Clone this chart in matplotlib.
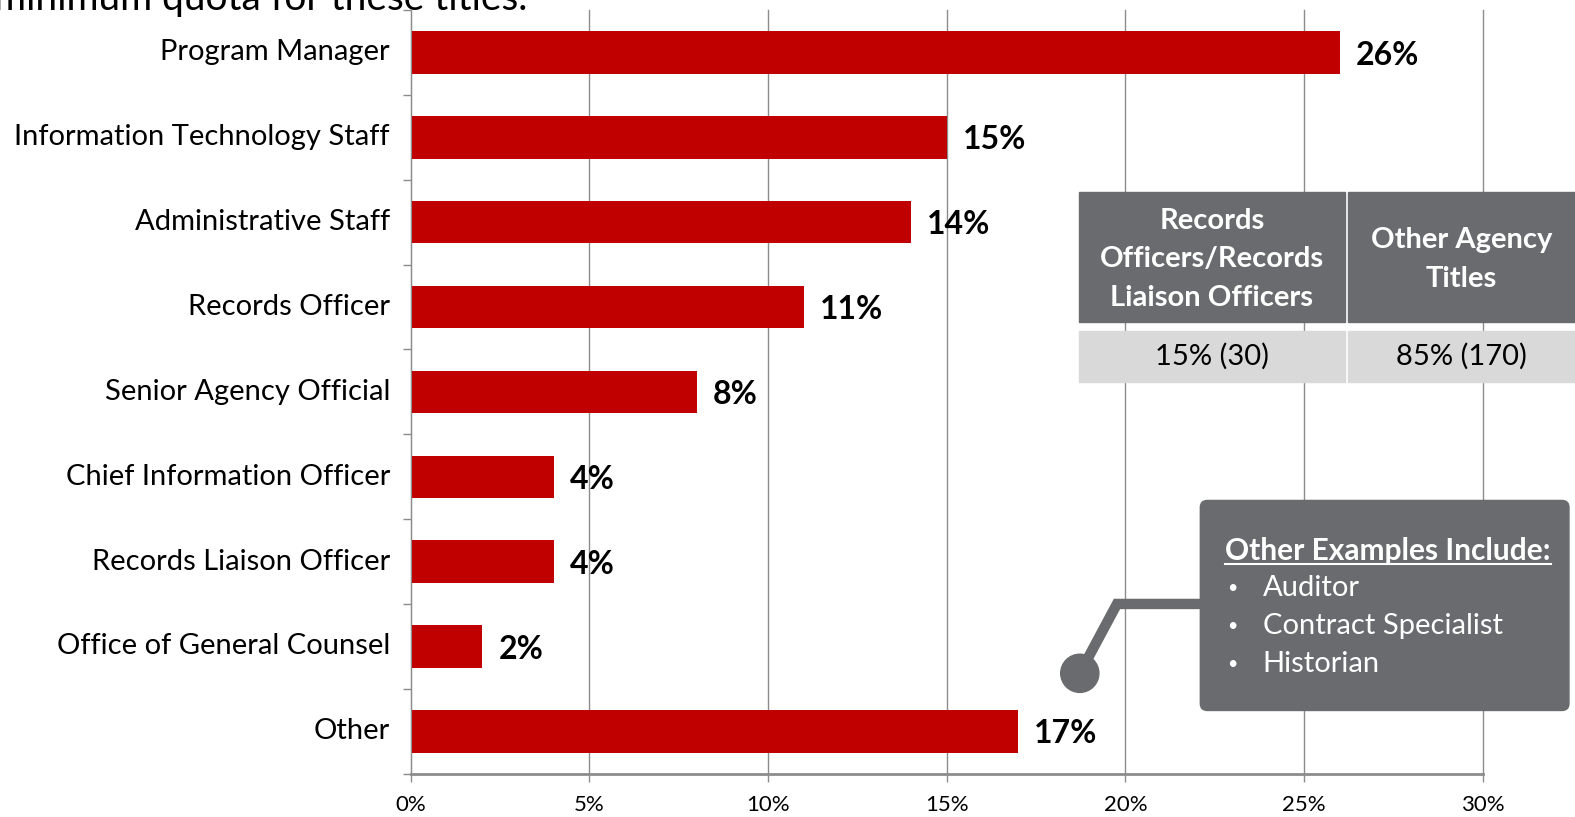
import matplotlib.pyplot as plt
from matplotlib.patches import Rectangle, FancyBboxPatch, Circle
from matplotlib.lines import Line2D

plt.rcParams['font.family'] = ['Lato', 'DejaVu Sans']

# survey responses by agency title (percent of respondents)
categories = [
    "Program Manager",
    "Information Technology Staff",
    "Administrative Staff",
    "Records Officer",
    "Senior Agency Official",
    "Chief Information Officer",
    "Records Liaison Officer",
    "Office of General Counsel",
    "Other",
]
shares = [26, 15, 14, 11, 8, 4, 4, 2, 17]
xticks = [0, 5, 10, 15, 20, 25, 30]

# summary table
table_headers = ["Records\nOfficers/Records\nLiaison Officers", "Other Agency\nTitles"]
table_values = ["15% (30)", "85% (170)"]

other_examples = ["Auditor", "Contract Specialist", "Historian"]

RED = "#c00000"
DARK = "#6a6b6f"
LIGHT = "#d9d9d9"
GRID = "#8c8c8c"

W, H = 1568, 813
fig = plt.figure(figsize=(15.75, 8.17), dpi=100)

# main bar chart
ax = fig.add_axes([409 / W, 1 - 770 / H, (1476 - 409) / W, (770 - 10) / H])
pos = list(range(len(categories)))
ax.barh(pos, shares, height=0.5, color=RED, zorder=2)
ax.set_ylim(len(categories) - 0.5, -0.5)
ax.set_xlim(0, 30)

ax.set_yticks(pos)
ax.set_yticklabels(categories, fontsize=21)
for lbl in ax.get_yticklabels():
    lbl.set_verticalalignment('center')
ax.set_yticks([p - 0.5 for p in pos] + [len(categories) - 0.5], minor=True)
ax.tick_params(axis='y', which='major', length=0, pad=15)
ax.tick_params(axis='y', which='minor', length=6, color=GRID, width=1)

ax.set_xticks(xticks)
ax.set_xticklabels([f"{t}%" for t in xticks], fontsize=16)
ax.tick_params(axis='x', length=6, color=GRID, width=1, pad=9)
ax.grid(axis='x', color=GRID, linewidth=1, zorder=0)
for gl in ax.get_xgridlines():
    gl.set_clip_on(False)

for side in ("top", "right"):
    ax.spines[side].set_visible(False)
ax.spines["left"].set_color(GRID)
ax.spines["bottom"].set_color(GRID)
ax.spines["bottom"].set_linewidth(2)

for p, v in zip(pos, shares):
    ax.text(v + 0.45, p + 0.03, f"{v}%", va='center', ha='left',
            fontsize=23, fontweight='bold', zorder=3)

# overlay in pixel coordinates for the heading, table and callout
ov = fig.add_axes([0, 0, 1, 1], facecolor='none')
ov.set_xlim(0, W)
ov.set_ylim(H, 0)
ov.axis('off')

ov.text(525, 10, "minimum quota for these titles.", ha='right', va='baseline',
        fontsize=28)

# table
cols = [(1074, 1339), (1342, 1572)]
for (x0, x1), head, val in zip(cols, table_headers, table_values):
    ov.add_patch(Rectangle((x0, 191), x1 - x0, 320 - 191, color=DARK, zorder=5))
    ov.add_patch(Rectangle((x0, 329), x1 - x0, 380 - 329, color=LIGHT, zorder=5))
    cx = (x0 + min(x1, 1568)) / 2
    ov.text(cx, 258, head, ha='center', va='center', color='white',
            fontsize=21, fontweight='bold', linespacing=1.6, zorder=6)
    ov.text(cx, 355, val, ha='center', va='center', color='black',
            fontsize=21, zorder=6)

# callout pointing at "Other"
ov.add_line(Line2D([1197, 1112, 1075], [601, 601, 670], color=DARK,
                   linewidth=7.5, solid_joinstyle='miter', zorder=5))
ov.add_patch(Circle((1075, 670), 19, color=DARK, zorder=5))
ov.add_patch(FancyBboxPatch((1200, 503), 357, 199,
                            boxstyle="round,pad=5,rounding_size=7",
                            color=DARK, zorder=5))
head = ov.text(1220, 548, "Other Examples Include:", ha='left', va='center',
               color='white', fontsize=21.5, fontweight='bold', zorder=6)
for i, item in enumerate(other_examples):
    y = 585 + 38 * i
    ov.text(1222, y, "\u2022", ha='left', va='center', color='white',
            fontsize=13, zorder=6)
    ov.text(1257, y, item, ha='left', va='center', color='white',
            fontsize=21, zorder=6)

# underline the callout heading
fig.canvas.draw()
bb = head.get_window_extent().transformed(ov.transData.inverted())
ov.add_line(Line2D([bb.x0, bb.x1], [561, 561], color='white', linewidth=1.5,
                   zorder=6))

fig.savefig("out.png", dpi=100)
